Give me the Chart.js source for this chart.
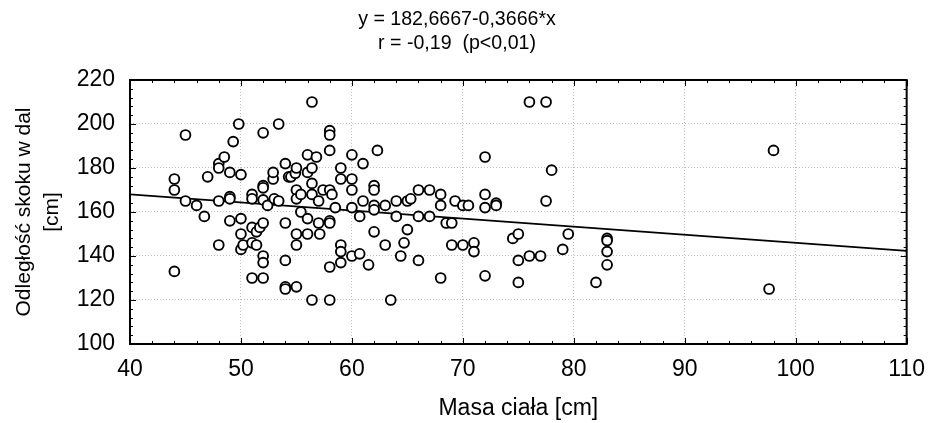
<!DOCTYPE html>
<html>
<head>
<meta charset="utf-8">
<script src="https://cdn.jsdelivr.net/npm/chart.js@4"></script>
<style>
  body { margin: 0; background: #fff; }
  #wrap { width: 937px; height: 423px; }
</style>
</head>
<body>
<div id="wrap"><canvas id="chart"></canvas></div>
<script>
// body mass (x) and long jump distance (y)
const massX = [
  44, 44, 44, 45, 45, 46, 46.7, 47, 48, 48, 48.5, 48, 48, 49, 49.3, 49, 49, 49,
  49.8, 50, 50, 50, 50, 50.2, 51, 51, 51, 51, 51, 51.4, 51.4, 51.7, 52, 52, 52,
  52, 52.4, 52, 52, 52, 52, 52.9, 52.9, 53, 53.4, 53.4, 54, 54.3, 54, 54, 54, 54,
  54.5, 54.9, 55, 55, 55, 55, 55, 55, 55.4, 55.4, 56, 56, 56, 56, 56.4, 56.4,
  56.4, 56.4, 56.4, 56.8, 57, 57, 57.1, 57.4, 58, 58, 58, 58, 58.2, 58, 58, 58,
  58, 58.5, 59, 59, 59, 59, 59, 60, 60, 60, 60, 60, 60.7, 60.7, 61, 61, 61.5, 62,
  62, 62, 62, 62, 62.3, 63, 63, 63.5, 64, 64, 64.4, 64.7, 65, 65, 65.3, 66, 66,
  66, 67, 67, 68, 68, 68, 68.5, 69, 69, 69.3, 70, 70, 70.5, 71, 71, 72, 72, 72,
  72, 73, 73, 74.5, 75, 75, 75, 76, 76, 77, 77.5, 77.5, 78, 79, 79.5, 82, 83, 83,
  83, 83, 97.6, 98
];
const jumpY = [
  175, 170, 133, 195, 165, 163, 158, 176, 182, 180, 185, 165, 145, 178, 192, 167, 166, 156,
  200, 177, 157, 150, 143, 145, 168, 166, 153, 146, 130, 145, 151, 153, 196, 172, 171,
  165.5, 163, 155, 140, 137, 130, 175, 178, 166, 200, 165, 182, 176, 155, 138, 126, 125,
  176, 177.6, 180, 170, 166, 150, 145, 126, 168, 160, 186, 178, 157, 150, 210, 180,
  173, 168, 120, 185, 165, 155, 150, 170, 197, 195, 188, 170, 168, 156, 155, 135,
  120, 162, 180, 175, 145, 142, 137, 186, 175, 170, 162, 140, 158, 141, 182, 165, 136, 172,
  170, 163, 161, 151, 188, 163, 145, 120, 165, 158, 140, 146, 165, 152, 166, 170, 158,
  138, 170, 158, 168, 163, 130, 155, 155, 145, 165, 163, 145, 163, 146, 142, 185, 168, 162,
  131, 164, 163, 148, 150, 138, 128, 210, 140, 140, 210, 165, 179, 143, 150, 128, 148, 147,
  142, 136, 125, 188
];

// regression line from the title
const intercept = 182.6667;
const slope = -0.3666;
const lineX = [40, 110];

const xTicks = [40, 50, 60, 70, 80, 90, 100, 110];
const yTicks = [100, 120, 140, 160, 180, 200, 220];

const points = massX.map((x, i) => ({ x: x, y: jumpY[i] }));
const fitLine = lineX.map(x => ({ x: x, y: intercept + slope * x }));

const FONT = "'Liberation Sans', Arial, sans-serif";

// white background, frame and inward tick marks
const framePlugin = {
  id: 'frame',
  beforeDraw(chart) {
    const ctx = chart.ctx;
    ctx.save();
    ctx.fillStyle = '#fff';
    ctx.fillRect(0, 0, chart.width, chart.height);
    ctx.restore();
  },
  afterDatasetsDraw(chart) {
    const ctx = chart.ctx;
    const a = chart.chartArea;
    const xs = chart.scales.x;
    const ys = chart.scales.y;
    ctx.save();
    ctx.strokeStyle = '#000';
    ctx.lineWidth = 1;
    ctx.beginPath();
    for (let v = 40; v <= 110; v += 2) {
      const px = Math.round(xs.getPixelForValue(v)) + 0.5;
      const len = v % 10 === 0 ? 6 : 3;
      ctx.moveTo(px, a.bottom); ctx.lineTo(px, a.bottom - len);
      ctx.moveTo(px, a.top); ctx.lineTo(px, a.top + len);
    }
    for (let v = 100; v <= 220; v += 4) {
      const py = Math.round(ys.getPixelForValue(v)) + 0.5;
      const len = v % 20 === 0 ? 6 : 3;
      ctx.moveTo(a.left, py); ctx.lineTo(a.left + len, py);
      ctx.moveTo(a.right, py); ctx.lineTo(a.right - len, py);
    }
    ctx.stroke();
    ctx.lineWidth = 2;
    ctx.strokeRect(a.left, a.top, a.right - a.left, a.bottom - a.top);
    ctx.restore();
  }
};

const ctx = document.getElementById('chart').getContext('2d');
const chart = new Chart(ctx, {
  type: 'scatter',
  data: {
    datasets: [{
      label: 'pomiary',
      data: points,
      pointStyle: 'circle',
      pointRadius: 4.9,
      pointHoverRadius: 4.9,
      borderWidth: 1.9,
      borderColor: '#000',
      backgroundColor: '#fff'
    }, {
      type: 'line',
      label: 'regresja',
      data: fitLine,
      borderColor: '#000',
      borderWidth: 1.6,
      pointRadius: 0,
      fill: false
    }]
  },
  options: {
    responsive: true,
    maintainAspectRatio: false,
    animation: false,
    events: [],
    layout: { padding: { left: 0, right: 23, top: 0, bottom: 0 } },
    plugins: {
      legend: { display: false },
      tooltip: { enabled: false },
      title: {
        display: true,
        text: ['y = 182,6667-0,3666*x', 'r = -0,19  (p<0,01)'],
        color: '#000',
        font: { family: FONT, size: 19.6, weight: 'normal', lineHeight: 1.26 },
        padding: { top: 7, bottom: 23.6 }
      }
    },
    scales: {
      x: {
        type: 'linear',
        min: 40,
        max: 110,
        afterFit(scale) { scale.height = 79; },
        afterBuildTicks(scale) { scale.ticks = xTicks.map(v => ({ value: v })); },
        ticks: {
          color: '#000',
          padding: 12,
          font: { family: FONT, size: 23 }
        },
        grid: { color: '#bdbdbd', lineWidth: 1, drawTicks: false },
        border: { display: false, dash: [1, 2] },
        title: {
          display: true,
          text: 'Masa ciała [cm]',
          color: '#000',
          font: { family: FONT, size: 23 },
          padding: { top: 0, bottom: 1 }
        }
      },
      y: {
        type: 'linear',
        min: 100,
        max: 220,
        afterFit(scale) { scale.width = 130; },
        afterBuildTicks(scale) { scale.ticks = yTicks.map(v => ({ value: v })); },
        ticks: {
          color: '#000',
          padding: 15,
          font: { family: FONT, size: 23 }
        },
        grid: { color: '#bdbdbd', lineWidth: 1, drawTicks: false },
        border: { display: false, dash: [1, 2] },
        title: {
          display: true,
          text: ['Odległość skoku w dal', '[cm]'],
          color: '#000',
          font: { family: FONT, size: 21, lineHeight: 1.33 },
          padding: { top: 10, bottom: 0 }
        }
      }
    }
  },
  plugins: [framePlugin]
});
</script>
</body>
</html>
